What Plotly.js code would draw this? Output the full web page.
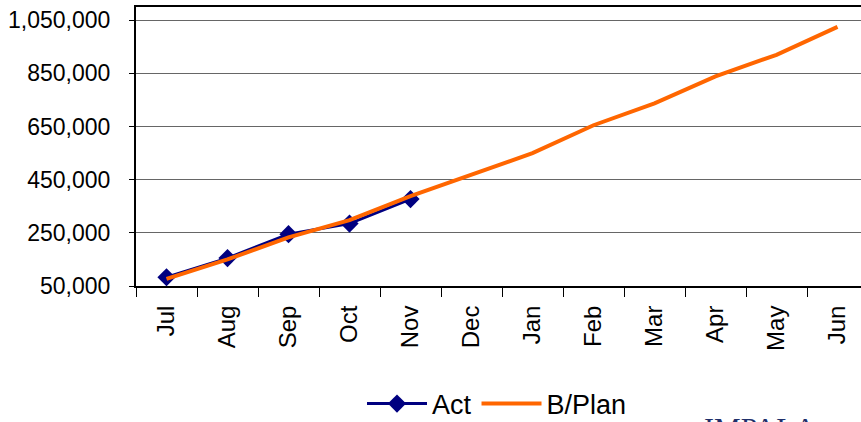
<!DOCTYPE html>
<html>
<head>
<meta charset="utf-8">
<script src="https://cdn.plot.ly/plotly-3.0.1.min.js"></script>
<style>
html,body{margin:0;padding:0;overflow:hidden;background:#fff;}
#chart{width:880px;height:422px;}
</style>
</head>
<body>
<div id="chart"></div>
<script>
const months = ["Jul","Aug","Sep","Oct","Nov","Dec","Jan","Feb","Mar","Apr","May","Jun"];
const actMonths = ["Jul","Aug","Sep","Oct","Nov"];
const actValues = [83000, 155000, 245000, 285000, 377000];
const planValues = [77000, 150000, 233000, 298000, 388000, 468000, 550000, 655000, 737000, 839000, 920000, 1025000];
const yTicks = [50000, 250000, 450000, 650000, 850000, 1050000];
const yTickLabels = ["50,000","250,000","450,000","650,000","850,000","1,050,000"];

const traces = [
  {
    x: actMonths, y: actValues, name: "Act", type: "scatter", mode: "lines+markers",
    line: {color: "#000080", width: 3},
    marker: {symbol: "diamond", size: 14, color: "#000080"}
  },
  {
    x: months, y: planValues, name: "B/Plan", type: "scatter", mode: "lines",
    line: {color: "#FF6600", width: 4}
  }
];

const layout = {
  width: 880, height: 422,
  margin: {l: 136, r: 12, t: 7, b: 136, autoexpand: false},
  paper_bgcolor: "#fff", plot_bgcolor: "#fff",
  font: {family: "Liberation Sans, Arial, sans-serif", color: "#000"},
  showlegend: true,
  legend: {
    orientation: "h", x: 497/880, xanchor: "center", xref: "container",
    y: 1 - 404/422, yanchor: "middle", yref: "container",
    font: {size: 27, family: "Liberation Sans, Arial, sans-serif"},
    itemwidth: 60, traceorder: "normal"
  },
  xaxis: {
    type: "category", categoryorder: "array", categoryarray: months,
    range: [-0.5, 11.5], automargin: false,
    tickangle: -90, tickfont: {size: 24},
    ticks: "outside", ticklen: 9, tickwidth: 1, tickcolor: "#000",
    tickson: "boundaries", ticklabelstandoff: 8,
    showline: true, linecolor: "#000", linewidth: 2, mirror: true,
    showgrid: false, zeroline: false, fixedrange: true
  },
  yaxis: {
    range: [50000, 1100000], automargin: false,
    tickmode: "array", tickvals: yTicks, ticktext: yTickLabels,
    tickfont: {size: 23},
    ticks: "outside", ticklen: 5, tickwidth: 1, tickcolor: "#000",
    ticklabelstandoff: 14,
    showline: true, linecolor: "#000", linewidth: 2, mirror: true,
    showgrid: true, gridcolor: "#666", gridwidth: 1,
    zeroline: false, fixedrange: true
  },
  annotations: [
    {
      text: "IMPALA", xref: "paper", yref: "paper",
      x: (702-136)/732, xanchor: "left", y: -(427-286)/279, yanchor: "middle",
      showarrow: false,
      font: {family: "Liberation Serif, serif", size: 30, color: "#1f2f6a"}
    }
  ]
};

Plotly.newPlot("chart", traces, layout, {displayModeBar: false, staticPlot: true});
</script>
</body>
</html>
